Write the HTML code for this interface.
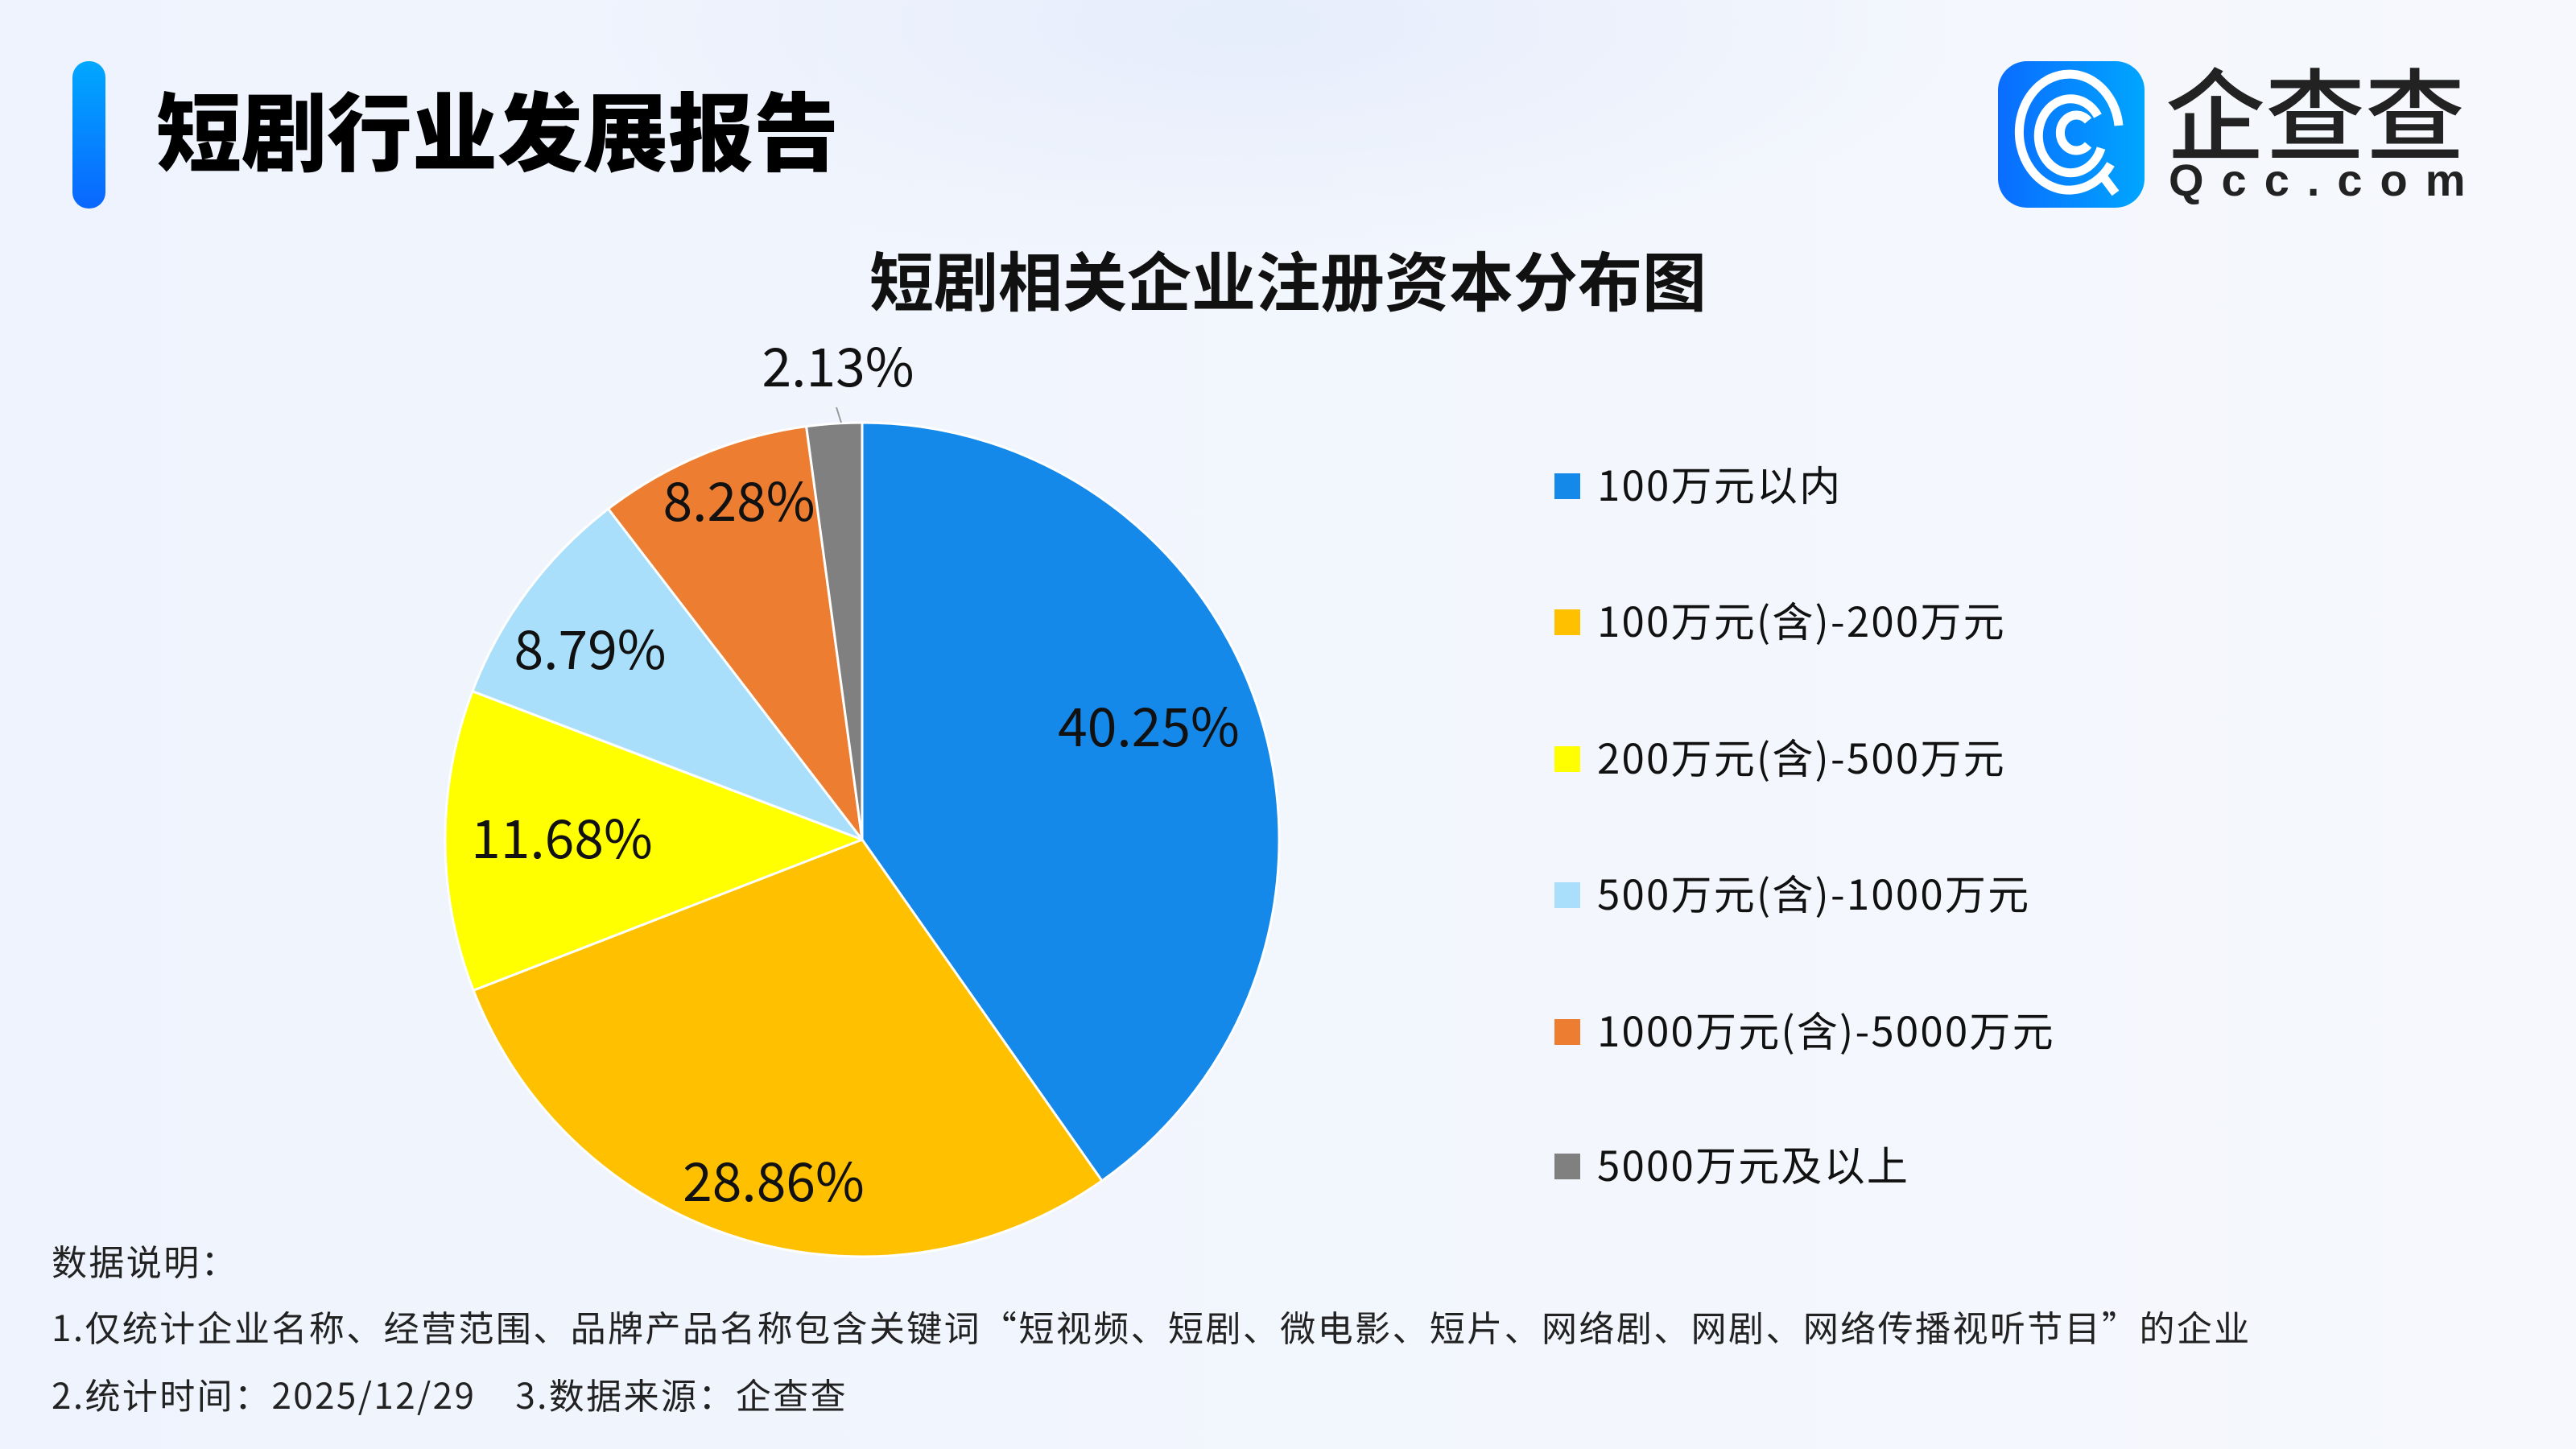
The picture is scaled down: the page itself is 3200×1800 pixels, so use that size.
<!DOCTYPE html>
<html><head><meta charset="utf-8"><style>
html,body{margin:0;padding:0}
body{width:3200px;height:1800px;position:relative;overflow:hidden;
background:radial-gradient(ellipse 900px 300px at 1550px 30px,#e6edfb 0%,rgba(230,237,251,0) 100%),linear-gradient(90deg,#eef3fd 0%,#f3f6fd 60%,#f6f8fd 100%);
font-family:"Noto Sans CJK SC","Liberation Sans",sans-serif;color:#111}
.bar{position:absolute;left:90px;top:76px;width:41px;height:183px;border-radius:20px;background:linear-gradient(180deg,#00a8ff,#0a66ff)}
.h1{position:absolute;left:194px;top:88px;font-size:106px;font-weight:900;letter-spacing:0px;line-height:140px;color:#000;font-family:"Noto Sans CJK SC",sans-serif}
.logo{position:absolute;left:2482px;top:76px;width:182px;height:182px;border-radius:36px;background:linear-gradient(90deg,#0a6cff,#00a6ff)}
.qcc{position:absolute;left:2690px;top:60px;font-size:124px;line-height:150px;color:#222;letter-spacing:0px;font-family:"Noto Sans CJK SC",sans-serif;font-weight:500}
.qcom{position:absolute;left:2694px;top:192px;font-size:56px;line-height:64px;color:#222;letter-spacing:22px;font-weight:bold;font-family:"Liberation Sans",sans-serif}
.t2{position:absolute;left:0;width:3200px;text-align:center;top:296px;font-size:80px;font-weight:bold;line-height:100px;font-family:"Noto Sans CJK SC",sans-serif}
.lg{position:absolute;left:1931px;font-size:51px;line-height:60px;letter-spacing:2.2px}
.lg i{position:absolute;left:0;top:14px;width:32px;height:32px}
.lg span{position:absolute;left:53px;top:-4px;white-space:nowrap}
.note{position:absolute;left:64px;font-size:44px;line-height:56px;white-space:nowrap;color:#222;letter-spacing:2.4px}
</style></head><body>
<div class="bar"></div>
<div class="h1">短剧行业发展报告</div>
<div class="logo"><svg width="182" height="182" viewBox="0 0 182 182">
<g fill="none" stroke="#fff" stroke-width="11" stroke-linecap="butt">
<path d="M140 128 A62 72 0 1 1 150 80"/>
<path d="M128 108 A40 46 0 1 1 124 68"/>
<path d="M112 104 A20 22 0 1 1 112 74"/>
<path d="M128 140 L146 164"/>
</g></svg></div>
<div class="qcc">企查查</div>
<div class="qcom">Qcc.com</div>
<div class="t2">短剧相关企业注册资本分布图</div>
<svg style="position:absolute;left:0;top:0" width="3200" height="1800">
<g stroke="#fff" stroke-width="3" stroke-linejoin="round">
<path d="M1071 1043 L1071 525 A518 518 0 0 1 1368.9 1466.8 Z" fill="#1589ea"/>
<path d="M1071 1043 L1368.9 1466.8 A518 518 0 0 1 588.1 1230.3 Z" fill="#ffc000"/>
<path d="M1071 1043 L588.1 1230.3 A518 518 0 0 1 586.9 858.7 Z" fill="#ffff00"/>
<path d="M1071 1043 L586.9 858.7 A518 518 0 0 1 755.6 632.1 Z" fill="#a9dffa"/>
<path d="M1071 1043 L755.6 632.1 A518 518 0 0 1 1001.6 529.7 Z" fill="#ed7d31"/>
<path d="M1071 1043 L1001.6 529.7 A518 518 0 0 1 1071 525 Z" fill="#808080"/>
</g>
<line x1="1039" y1="506" x2="1045" y2="525" stroke="#999" stroke-width="2"/>
<g font-family="Noto Sans CJK SC, sans-serif" font-size="66" text-anchor="middle" fill="#111">
<text x="1427" y="927">40.25%</text>
<text x="961" y="1492">28.86%</text>
<text x="698" y="1066">11.68%</text>
<text x="733" y="831">8.79%</text>
<text x="918" y="647">8.28%</text>
<text x="1041" y="480">2.13%</text>
</g></svg>
<div class="lg" style="top:574px"><i style="background:#1589ea"></i><span>100万元以内</span></div>
<div class="lg" style="top:743px"><i style="background:#ffc000"></i><span>100万元(含)-200万元</span></div>
<div class="lg" style="top:913px"><i style="background:#ffff00"></i><span>200万元(含)-500万元</span></div>
<div class="lg" style="top:1082px"><i style="background:#a9dffa"></i><span>500万元(含)-1000万元</span></div>
<div class="lg" style="top:1252px"><i style="background:#ed7d31"></i><span>1000万元(含)-5000万元</span></div>
<div class="lg" style="top:1419px"><i style="background:#808080"></i><span>5000万元及以上</span></div>
<div class="note" style="top:1537px">数据说明：</div>
<div class="note" style="top:1619px">1.仅统计企业名称、经营范围、品牌产品名称包含关键词“短视频、短剧、微电影、短片、网络剧、网剧、网络传播视听节目”的企业</div>
<div class="note" style="top:1703px">2.统计时间：2025/12/29&nbsp;&nbsp;&nbsp;&nbsp;3.数据来源：企查查</div>
</body></html>
